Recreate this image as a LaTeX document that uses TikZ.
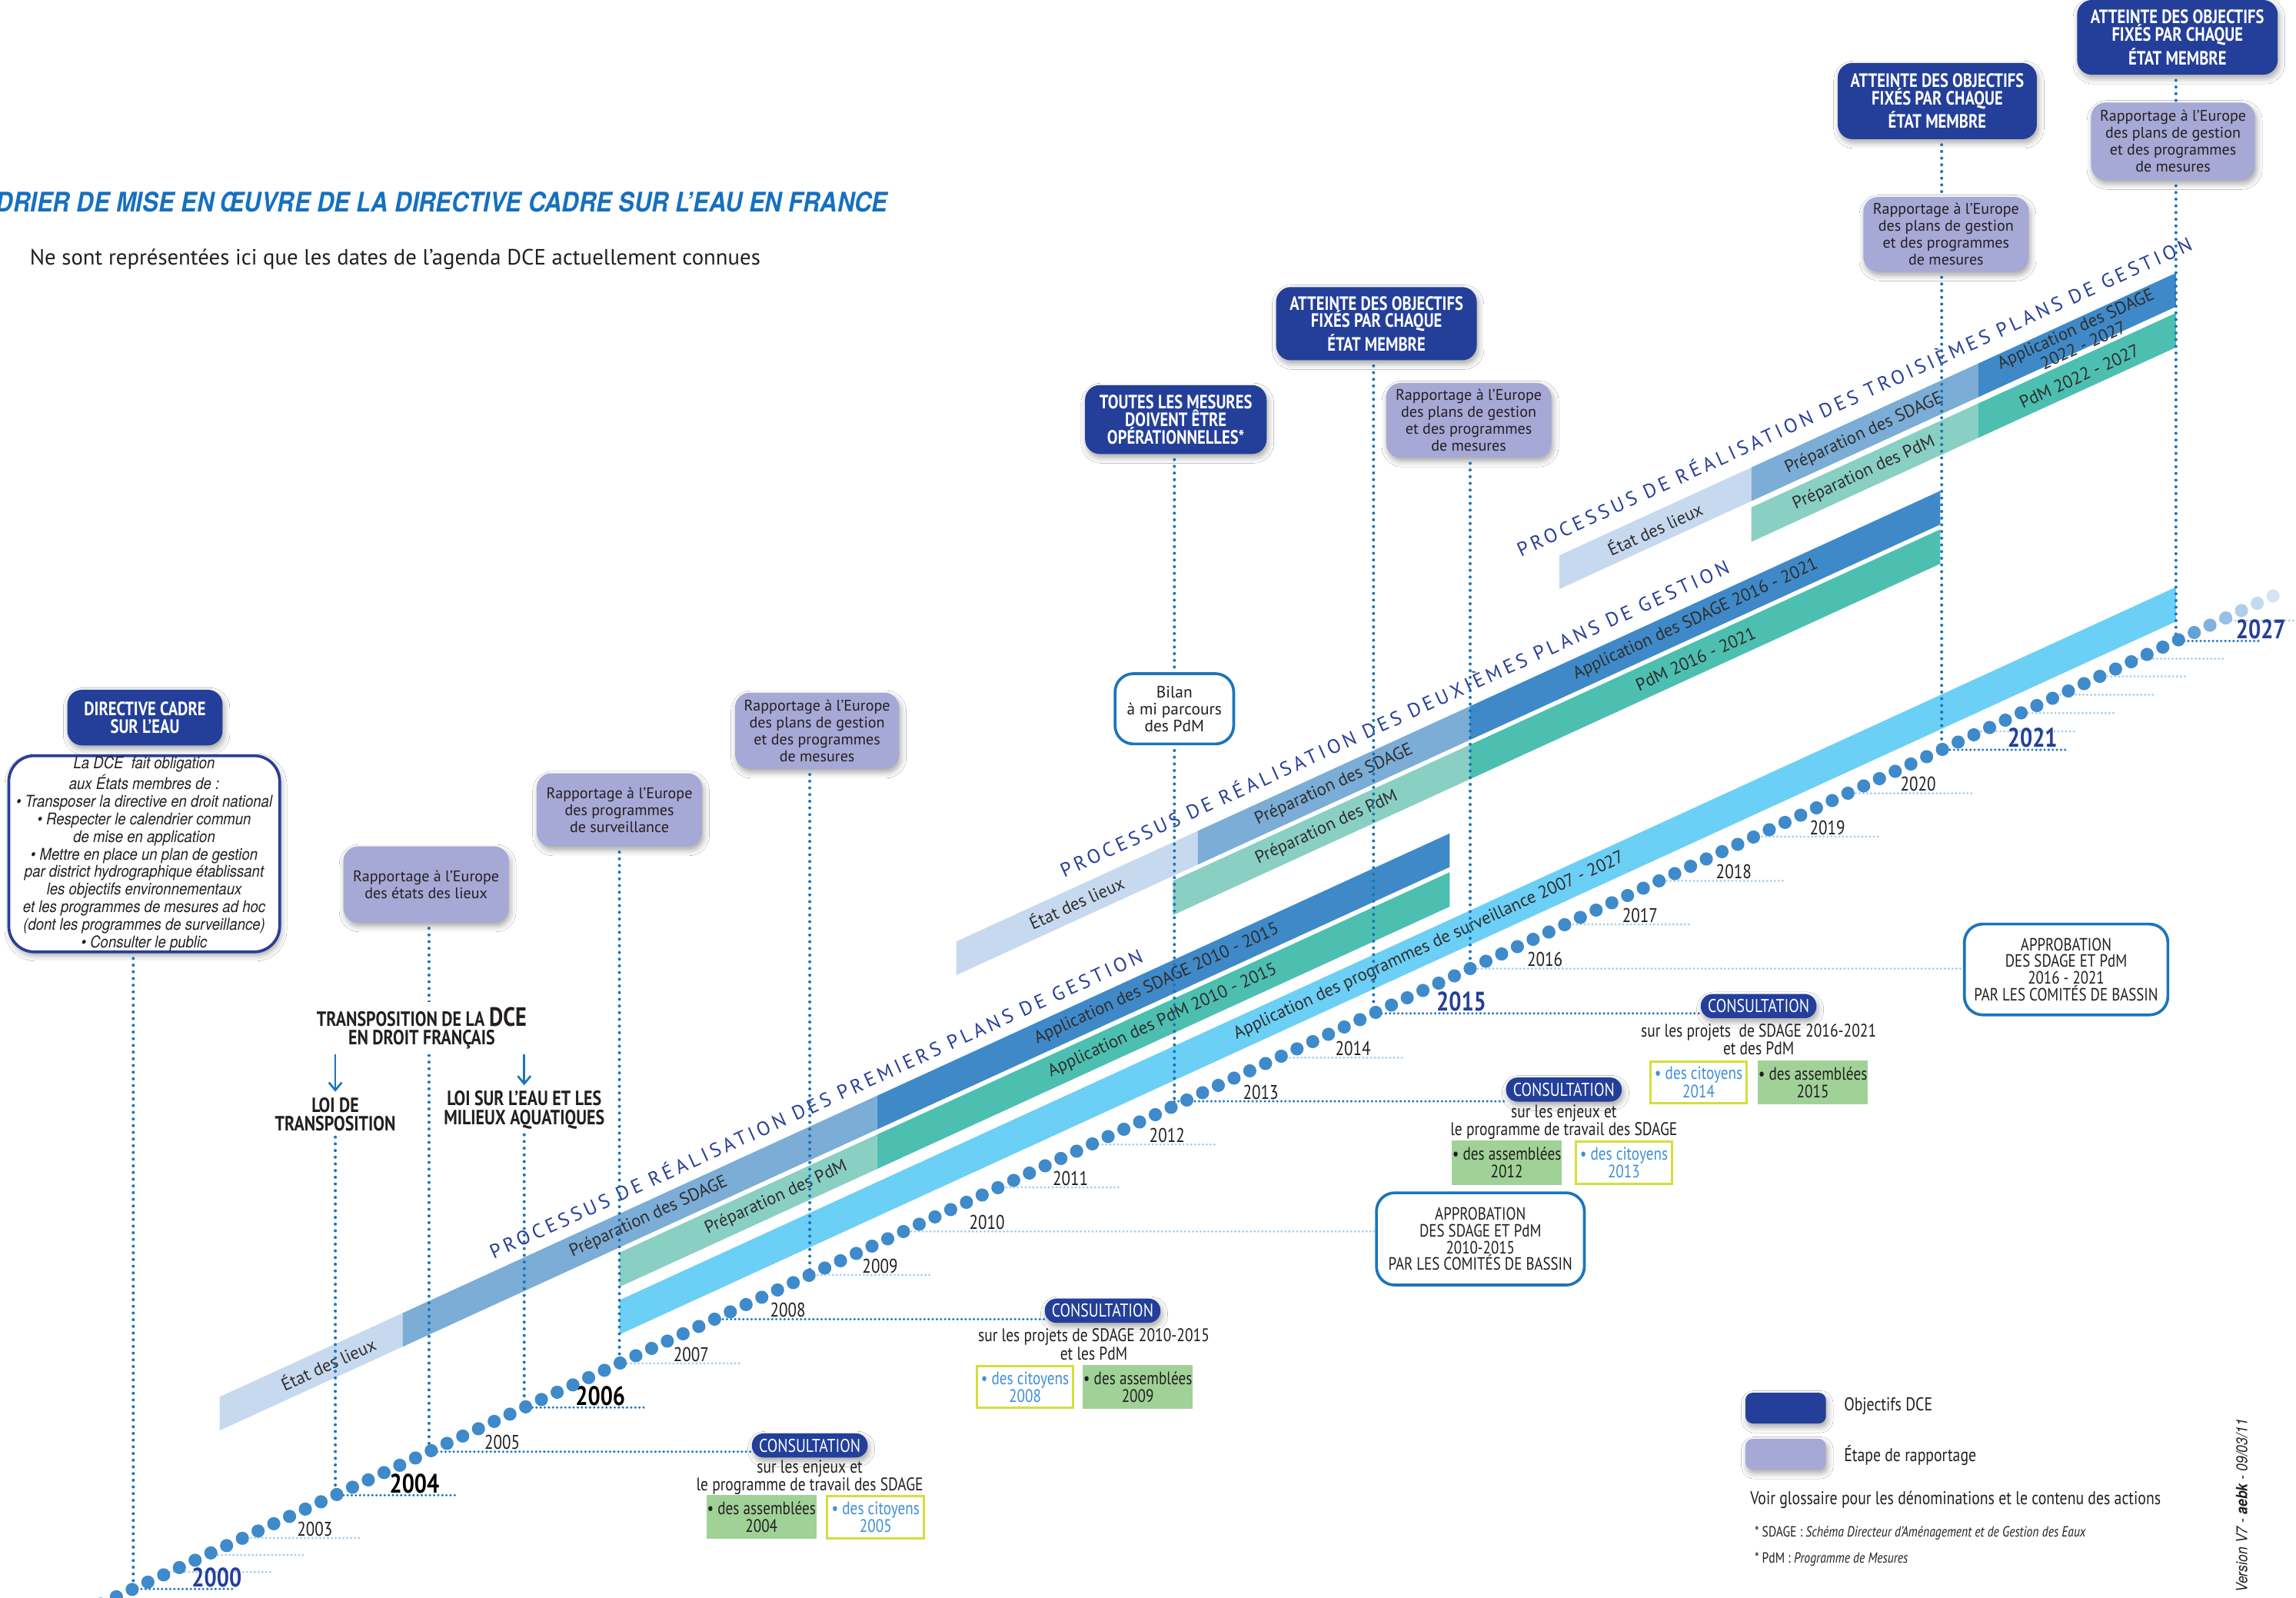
\documentclass[tikz,border=0pt]{standalone}
\usepackage{fontspec}
\setmainfont{PT Sans}
\newfontfamily\cond[FakeStretch=0.82]{PT Sans}
\newfontfamily\heros[FakeStretch=0.88]{TeX Gyre Heros}
\newfontfamily\spaced[LetterSpace=18]{PT Sans}
\usetikzlibrary{arrows.meta,shadows.blur}
\definecolor{objblue}{HTML}{233F99}
\definecolor{rapviolet}{HTML}{A6A8D5}
\definecolor{lineblue}{HTML}{1B75BB}
\definecolor{lightline}{HTML}{9CCBEE}
\definecolor{dotblue}{HTML}{3E8ACB}
\definecolor{bandedl}{HTML}{C7D9EF}
\definecolor{bandprep}{HTML}{7BADD6}
\definecolor{bandappl}{HTML}{3F89C8}
\definecolor{bandpdmprep}{HTML}{8ACFC4}
\definecolor{bandpdm}{HTML}{4CBFB0}
\definecolor{bandsurv}{HTML}{6CCFF5}
\definecolor{asmgreen}{HTML}{A0D297}
\definecolor{cityellow}{HTML}{D4DE3C}
\definecolor{cittext}{HTML}{3E8FD6}
\definecolor{titleblue}{HTML}{1570C0}
\definecolor{inkgray}{HTML}{231F20}
\definecolor{procblue}{HTML}{2A3F96}
\definecolor{bandtext}{HTML}{2E2E2E}

\begin{document}
\begin{tikzpicture}[x=0.02cm,y=-0.02cm,
  every node/.style={inner sep=0pt,text=inkgray,align=center},
  softshadow/.style={blur shadow={shadow xshift=0.6pt,shadow yshift=-1.4pt,shadow blur radius=2.2pt,shadow opacity=35}},
  objbox/.style={fill=objblue,rounded corners=0.2cm,text=white,softshadow,font=\cond\bfseries\fontsize{7.5}{6.8}\selectfont},
  rapbox/.style={fill=rapviolet,rounded corners=0.2cm,softshadow,font=\fontsize{6}{6.6}\selectfont},
  whitebox/.style={draw=lineblue,line width=1.1pt,fill=white,rounded corners=0.25cm},
  conspill/.style={fill=objblue,rounded corners=0.16cm,text=white,softshadow,minimum width=1.58cm,minimum height=0.33cm,font=\cond\fontsize{7.2}{7}\selectfont},
  constext/.style={font=\cond\fontsize{7.1}{6.9}\selectfont},
  asmbox/.style={fill=asmgreen,minimum width=1.5cm,minimum height=0.6cm,font=\cond\fontsize{7}{6.9}\selectfont},
  citbox/.style={draw=cityellow,line width=0.9pt,fill=white,minimum width=1.32cm,minimum height=0.57cm,text=cittext,font=\cond\fontsize{7}{6.9}\selectfont},
  yrline/.style={lightline,line width=0.9pt,line cap=round,dash pattern=on 0pt off 1.5pt},
  yrdark/.style={lineblue,line width=1pt,line cap=round,dash pattern=on 0pt off 1.6pt},
  vdot/.style={lineblue,line width=1.2pt,line cap=round,dash pattern=on 0pt off 2.6pt,shorten <=2pt},
  yrlab/.style={anchor=south,font=\cond\fontsize{7.7}{7}\selectfont},
  yrboldk/.style={anchor=south,font=\cond\bfseries\fontsize{10.4}{9}\selectfont,text=black},
  yrboldb/.style={anchor=south,font=\cond\bfseries\fontsize{10.4}{9}\selectfont,text=objblue},
  bandlab/.style={rotate=24.6,font=\fontsize{6.8}{7.4}\selectfont,text=bandtext},
  proclab/.style={rotate=24.6,font=\spaced\fontsize{7.65}{8}\selectfont,text=procblue},
  loilab/.style={font=\cond\bfseries\fontsize{8}{7.4}\selectfont}]

  \fill[white] (0,0) rectangle (1568,1091);
  \useasboundingbox (0,0) rectangle (1568,1091);

  \coordinate (y2000) at (91,1085);
  \coordinate (y2001) at (116,1073.4);
  \coordinate (y2002) at (141,1061.8);
  \coordinate (y2003) at (166,1050.2);
  \coordinate (y2004) at (229,1021);
  \coordinate (y2005) at (293,991.3);
  \coordinate (y2006) at (358,961.1);
  \coordinate (y2007) at (423,931);
  \coordinate (y2008) at (488,900.8);
  \coordinate (y2009) at (553,870.6);
  \coordinate (y2010) at (617,840.9);
  \coordinate (y2011) at (682,810.8);
  \coordinate (y2012) at (745,781.5);
  \coordinate (y2013) at (802,752);
  \coordinate (y2014) at (873,722.2);
  \coordinate (y2015) at (938,692);
  \coordinate (y2016) at (1004,661.4);
  \coordinate (y2017) at (1069,631.2);
  \coordinate (y2018) at (1133,601.5);
  \coordinate (y2019) at (1198,571.3);
  \coordinate (y2020) at (1262,541.7);
  \coordinate (y2021) at (1326,512);
  \coordinate (y2022) at (1353,499.4);
  \coordinate (y2023) at (1380,486.9);
  \coordinate (y2024) at (1407,474.4);
  \coordinate (y2025) at (1434,461.9);
  \coordinate (y2026) at (1460,449.8);
  \coordinate (y2027) at (1486,437.7);
  \coordinate (y2028) at (1516,423.8);

  \fill[bandedl] (150,953.8) -- (275,896.6) -- (275,919.6) -- (150,976.8) -- cycle;
  \fill[bandprep] (275,896.6) -- (599,748.2) -- (599,771.2) -- (275,919.6) -- cycle;
  \fill[bandappl] (599,748.2) -- (990,569.1) -- (990,592.1) -- (599,771.2) -- cycle;
  \fill[bandpdmprep] (423,855.3) -- (599,774.7) -- (599,798.2) -- (423,878.8) -- cycle;
  \fill[bandpdm] (599,774.7) -- (990,595.6) -- (990,619.1) -- (599,798.2) -- cycle;
  \fill[bandsurv] (423,887.8) -- (1486,400.9) -- (1486,424.4) -- (423,911.3) -- cycle;
  \fill[bandedl] (653,642.9) -- (818,567.4) -- (818,590.4) -- (653,665.9) -- cycle;
  \fill[bandprep] (818,567.4) -- (1004,482.2) -- (1004,505.2) -- (818,590.4) -- cycle;
  \fill[bandappl] (1004,482.2) -- (1325,335.2) -- (1325,358.2) -- (1004,505.2) -- cycle;
  \fill[bandpdmprep] (801,601.4) -- (1004,508.5) -- (1004,532) -- (801,624.9) -- cycle;
  \fill[bandpdm] (1004,508.5) -- (1325,361.5) -- (1325,385) -- (1004,532) -- cycle;
  \fill[bandedl] (1065,379.2) -- (1196,319.2) -- (1196,342.2) -- (1065,402.2) -- cycle;
  \fill[bandprep] (1196,319.2) -- (1351,248.2) -- (1351,271.2) -- (1196,342.2) -- cycle;
  \fill[bandappl] (1351,248.2) -- (1486,186.4) -- (1486,209.4) -- (1351,271.2) -- cycle;
  \fill[bandpdmprep] (1196,346.5) -- (1351,275.5) -- (1351,299) -- (1196,370) -- cycle;
  \fill[bandpdm] (1351,275.5) -- (1486,213.7) -- (1486,237.2) -- (1351,299) -- cycle;

  \node[proclab] (proc1) at (557,753) {PROCESSUS DE RÉALISATION DES PREMIERS PLANS DE GESTION};
  \node[proclab] (proc2) at (952,490) {PROCESSUS DE RÉALISATION DES DEUXIÈMES PLANS DE GESTION};
  \node[proclab] (proc3) at (1266,270) {PROCESSUS DE RÉALISATION DES TROISIÈMES PLANS DE GESTION};
  \node[bandlab] (edl1) at (224,931) {État des lieux};
  \node[bandlab] (prep1) at (443,831) {Préparation des SDAGE};
  \node[bandlab] (appl1) at (790,672) {Application des SDAGE 2010 - 2015};
  \node[bandlab] (pdmprep1) at (530,818) {Préparation des PdM};
  \node[bandlab] (pdm1) at (794,697) {Application des PdM 2010 - 2015};
  \node[bandlab] (surv) at (976,646) {Application des programmes de surveillance 2007 - 2027};
  \node[bandlab] (edl2) at (735,616) {État des lieux};
  \node[bandlab] (prep2) at (911,536) {Préparation des SDAGE};
  \node[bandlab] (appl2) at (1158,423) {Application des SDAGE 2016 - 2021};
  \node[bandlab] (pdmprep2) at (906,565) {Préparation des PdM};
  \node[bandlab] (pdm2) at (1158,450) {PdM 2016 - 2021};
  \node[bandlab] (edl3) at (1130,361) {État des lieux};
  \node[bandlab] (prep3) at (1273,296) {Préparation des SDAGE};
  \node[bandlab,font=\fontsize{6.8}{6.2}\selectfont] (appl3) at (1420,230) {Application des SDAGE\\2022 - 2027};
  \node[bandlab] (pdmprep3) at (1273,323) {Préparation des PdM};
  \node[bandlab] (pdm3) at (1420,257) {PdM 2022 - 2027};

  \node[conspill] (cons05) at (553,987) {CONSULTATION};
  \node[conspill] (cons08) at (753,895) {CONSULTATION};
  \node[conspill] (cons13) at (1068,744) {CONSULTATION};
  \node[conspill] (cons15) at (1201,687) {CONSULTATION};
  \node[whitebox,minimum width=2.84cm,minimum height=1.26cm,font=\cond\fontsize{6.9}{6.5}\selectfont] (appr10) at (1011,846) {APPROBATION\\DES SDAGE ET PdM\\2010-2015\\PAR LES COMITÉS DE BASSIN};
  \node[whitebox,minimum width=2.78cm,minimum height=1.24cm,font=\cond\fontsize{6.9}{6.5}\selectfont] (appr16) at (1411,662) {APPROBATION\\DES SDAGE ET PdM\\2016 - 2021\\PAR LES COMITÉS DE BASSIN};

  \draw[yrdark] (y2000) -- ++(70,0);
  \draw[yrline] (y2001) -- ++(69,0);
  \draw[yrline] (y2002) -- ++(66,0);
  \draw[yrline] (y2003) -- ++(81,0);
  \draw[yrdark] (y2004) -- ++(82,0);
  \draw[yrdark] (y2005) -- (y2005 -| cons05.west);
  \draw[yrdark] (y2006) -- ++(83,0);
  \draw[yrline] (y2007) -- ++(83,0);
  \draw[yrdark] (y2008) -- (y2008 -| cons08.west);
  \draw[yrline] (y2009) -- ++(83,0);
  \draw[yrline] (y2010) -- (y2010 -| appr10.west);
  \draw[yrline] (y2011) -- ++(83,0);
  \draw[yrline] (y2012) -- ++(85,0);
  \draw[yrdark] (y2013) -- (y2013 -| cons13.west);
  \draw[yrline] (y2014) -- ++(85,0);
  \draw[yrdark] (y2015) -- (y2015 -| cons15.west);
  \draw[yrline] (y2016) -- (y2016 -| appr16.west);
  \draw[yrline] (y2017) -- ++(85,0);
  \draw[yrline] (y2018) -- ++(86,0);
  \draw[yrline] (y2019) -- ++(85,0);
  \draw[yrline] (y2020) -- ++(86,0);
  \draw[yrdark] (y2021) -- ++(86,0);
  \draw[yrline] (y2022) -- ++(64,0);
  \draw[yrline] (y2023) -- ++(65,0);
  \draw[yrline] (y2024) -- ++(65,0);
  \draw[yrline] (y2025) -- ++(59,0);
  \draw[yrline] (y2026) -- ++(60,0);
  \draw[yrdark] (y2027) -- ++(57,0);
  \draw[yrline] (y2028) -- ++(56,0);

  \node[yrboldb] (l2000) at ([shift={(57,-1)}]y2000) {2000};
  \node[yrlab] (l2003) at ([shift={(49,-1)}]y2003) {2003};
  \node[yrboldk] (l2004) at ([shift={(54,-1)}]y2004) {2004};
  \node[yrlab] (l2005) at ([shift={(50,-1)}]y2005) {2005};
  \node[yrboldk] (l2006) at ([shift={(52,-1)}]y2006) {2006};
  \node[yrlab] (l2007) at ([shift={(49,-1)}]y2007) {2007};
  \node[yrlab] (l2008) at ([shift={(50,-1)}]y2008) {2008};
  \node[yrlab] (l2009) at ([shift={(48,-1)}]y2009) {2009};
  \node[yrlab] (l2010) at ([shift={(57,-1)}]y2010) {2010};
  \node[yrlab] (l2011) at ([shift={(49,-1)}]y2011) {2011};
  \node[yrlab] (l2012) at ([shift={(52,-1)}]y2012) {2012};
  \node[yrlab] (l2013) at ([shift={(59,-1)}]y2013) {2013};
  \node[yrlab] (l2014) at ([shift={(51,-1)}]y2014) {2014};
  \node[yrboldb] (l2015) at ([shift={(60,-1)}]y2015) {2015};
  \node[yrlab] (l2016) at ([shift={(51,-1)}]y2016) {2016};
  \node[yrlab] (l2017) at ([shift={(51,-1)}]y2017) {2017};
  \node[yrlab] (l2018) at ([shift={(51,-1)}]y2018) {2018};
  \node[yrlab] (l2019) at ([shift={(50,-1)}]y2019) {2019};
  \node[yrlab] (l2020) at ([shift={(48,-1)}]y2020) {2020};
  \node[yrboldb] (l2021) at ([shift={(62,-1)}]y2021) {2021};
  \node[yrboldb] (l2027) at ([shift={(58,-1)}]y2027) {2027};

  \node[objbox,minimum width=2.12cm,minimum height=0.76cm] (dce) at (99,490) {DIRECTIVE CADRE\\SUR L’EAU};
  \node[whitebox,draw=procblue,minimum width=3.7cm,minimum height=2.68cm,rounded corners=0.35cm,softshadow,font=\heros\itshape\fontsize{6.3}{6.85}\selectfont] (oblig) at (98.5,583) {La DCE\ \ fait obligation\\aux États membres de :\\• Transposer la directive en droit national\\• Respecter le calendrier commun\\de mise en application\\• Mettre en place un plan de gestion\\par district hydrographique établissant\\les objectifs environnementaux\\et les programmes de mesures ad hoc\\(dont les programmes de surveillance)\\• Consulter le public};
  \node[rapbox,minimum width=2.26cm,minimum height=1.04cm] (rapEdl) at (291,604) {Rapportage à l’Europe\\des états des lieux};
  \node[rapbox,minimum width=2.26cm,minimum height=1.0cm] (rapSurv) at (423,553) {Rapportage à l’Europe\\des programmes\\de surveillance};
  \node[rapbox,minimum width=2.24cm,minimum height=1.04cm] (rapPlan1) at (558,499) {Rapportage à l’Europe\\des plans de gestion\\et des programmes\\de mesures};
  \node[objbox,minimum width=2.48cm,minimum height=0.94cm] (mesures) at (803,286.5) {TOUTES LES MESURES\\DOIVENT ÊTRE\\OPÉRATIONNELLES*};
  \node[whitebox,minimum width=1.62cm,minimum height=0.96cm,font=\fontsize{6.4}{6.6}\selectfont] (bilan) at (802,484) {Bilan\\à mi parcours\\des PdM};
  \node[objbox,minimum width=2.74cm,minimum height=1.0cm] (atteinte15) at (940,221) {ATTEINTE DES OBJECTIFS\\FIXÉS PAR CHAQUE\\ÉTAT MEMBRE};
  \node[rapbox,minimum width=2.26cm,minimum height=1.02cm] (rapPlan2) at (1003,287) {Rapportage à l’Europe\\des plans de gestion\\et des programmes\\de mesures};
  \node[objbox,minimum width=2.72cm,minimum height=1.04cm] (atteinte21) at (1323,69) {ATTEINTE DES OBJECTIFS\\FIXÉS PAR CHAQUE\\ÉTAT MEMBRE};
  \node[rapbox,minimum width=2.26cm,minimum height=1.02cm] (rapPlan3) at (1329,160) {Rapportage à l’Europe\\des plans de gestion\\et des programmes\\de mesures};
  \node[objbox,minimum width=2.74cm,minimum height=1.02cm] (atteinte27) at (1487,25.5) {ATTEINTE DES OBJECTIFS\\FIXÉS PAR CHAQUE\\ÉTAT MEMBRE};
  \node[rapbox,minimum width=2.24cm,minimum height=1.06cm] (rapPlan4) at (1484,96.5) {Rapportage à l’Europe\\des plans de gestion\\et des programmes\\de mesures};

  \draw[vdot] (oblig.south -| y2000) -- (y2000);
  \draw[vdot] (rapEdl.south -| y2005) -- (y2005);
  \draw[vdot] (rapSurv.south -| y2007) -- (y2007);
  \draw[vdot] (rapPlan1.south -| y2009) -- (y2009);
  \draw[vdot] (mesures.south -| bilan) -- (bilan.north);
  \draw[vdot] (bilan.south) -- (y2013);
  \draw[vdot] (atteinte15.south -| y2015) -- (y2015);
  \draw[vdot] (rapPlan2.south -| y2016) -- (y2016);
  \draw[vdot] (atteinte21.south -| y2021) -- (rapPlan3.north -| y2021);
  \draw[vdot] (rapPlan3.south -| y2021) -- (y2021);
  \draw[vdot] (atteinte27.south -| y2027) -- (rapPlan4.north -| y2027);
  \draw[vdot] (rapPlan4.south -| y2027) -- (y2027);

  \node[loilab,fill=white,inner sep=2pt,font=\cond\bfseries\fontsize{8}{7.2}\selectfont] (transpo) at (288,702) {TRANSPOSITION DE LA {\fontsize{10.3}{7}\selectfont DCE}\\EN DROIT FRANÇAIS};
  \node[loilab] (loitr) at (229,761) {LOI DE\\TRANSPOSITION};
  \node[loilab] (loieau) at (358,758) {LOI SUR L’EAU ET LES\\MILIEUX AQUATIQUES};
  \draw[lineblue,line width=0.8pt,-{Straight Barb[length=3pt,width=5pt]}] (loitr |- transpo.south) -- ([yshift=2pt]loitr.north);
  \draw[lineblue,line width=0.8pt,-{Straight Barb[length=3pt,width=5pt]}] (loieau |- transpo.south) -- ([yshift=2pt]loieau.north);
  \draw[vdot] (loitr.south -| y2004) -- (y2004);
  \draw[vdot] (loieau.south -| y2006) -- (y2006);

  \foreach \k in {-16,...,117}
    \fill[dotblue] ({230+10.75*\k},{1085-0.464*(139+10.75*\k)}) circle (0.09cm);
  \foreach \k/\c in {118/80,119/66,120/54,121/42,122/32,123/22}
    \fill[dotblue!\c] ({230+10.75*\k},{1085-0.464*(139+10.75*\k)}) circle (0.09cm);

  \node[constext] (txt05) at (553,1009) {sur les enjeux et\\le programme de travail des SDAGE};
  \node[asmbox] (asm04) at (520,1036) {• des assemblées\\2004};
  \node[citbox] (cit05) at (598,1036) {• des citoyens\\2005};
  \node[constext] (txt08) at (747,918) {sur les projets de SDAGE 2010-2015\\et les PdM};
  \node[citbox] (cit08) at (700,947) {• des citoyens\\2008};
  \node[asmbox] (asm09) at (777,947) {• des assemblées\\2009};
  \node[constext] (txt13) at (1068,766) {sur les enjeux et\\le programme de travail des SDAGE};
  \node[asmbox] (asm12) at (1029,794) {• des assemblées\\2012};
  \node[citbox] (cit13) at (1109,794) {• des citoyens\\2013};
  \node[constext] (txt15) at (1201,710) {sur les projets\ \ de SDAGE 2016-2021\\et des PdM};
  \node[citbox] (cit14) at (1160,739) {• des citoyens\\2014};
  \node[asmbox] (asm15) at (1238,739) {• des assemblées\\2015};

  \node[anchor=west,font=\heros\bfseries\itshape\fontsize{10.5}{10}\selectfont,text=titleblue] (title) at (-3,138) {DRIER DE MISE EN ŒUVRE DE LA DIRECTIVE CADRE SUR L’EAU EN FRANCE};
  \node[anchor=west,font=\fontsize{8.6}{9}\selectfont] (subtitle) at (20,177) {Ne sont représentées ici que les dates de l’agenda DCE actuellement connues};

  \node[objbox,minimum width=1.1cm,minimum height=0.42cm,rounded corners=0.1cm] (legobj) at (1219.5,961.5) {};
  \node[anchor=west,font=\cond\fontsize{7.2}{7}\selectfont] (legobjt) at (1259,960) {Objectifs DCE};
  \node[rapbox,minimum width=1.1cm,minimum height=0.42cm,rounded corners=0.1cm] (legrap) at (1219.5,993) {};
  \node[anchor=west,font=\cond\fontsize{7.2}{7}\selectfont] (legrapt) at (1259,994) {Étape de rapportage};
  \node[anchor=west,font=\cond\fontsize{7.2}{7}\selectfont] (gloss) at (1195,1024) {Voir glossaire pour les dénominations et le contenu des actions};
  \node[anchor=west,font=\cond\fontsize{5.7}{6}\selectfont] (notesdage) at (1198,1047) {* SDAGE : \textit{Schéma Directeur d’Aménagement et de Gestion des Eaux}};
  \node[anchor=west,font=\cond\fontsize{5.7}{6}\selectfont] (notepdm) at (1198,1065) {* PdM : \textit{Programme de Mesures}};
  \node[rotate=90,font=\heros\itshape\fontsize{6}{6}\selectfont] (version) at (1531,1028) {Version V7 - \textbf{aebk} - 09/03/11};
\end{tikzpicture}
\end{document}
